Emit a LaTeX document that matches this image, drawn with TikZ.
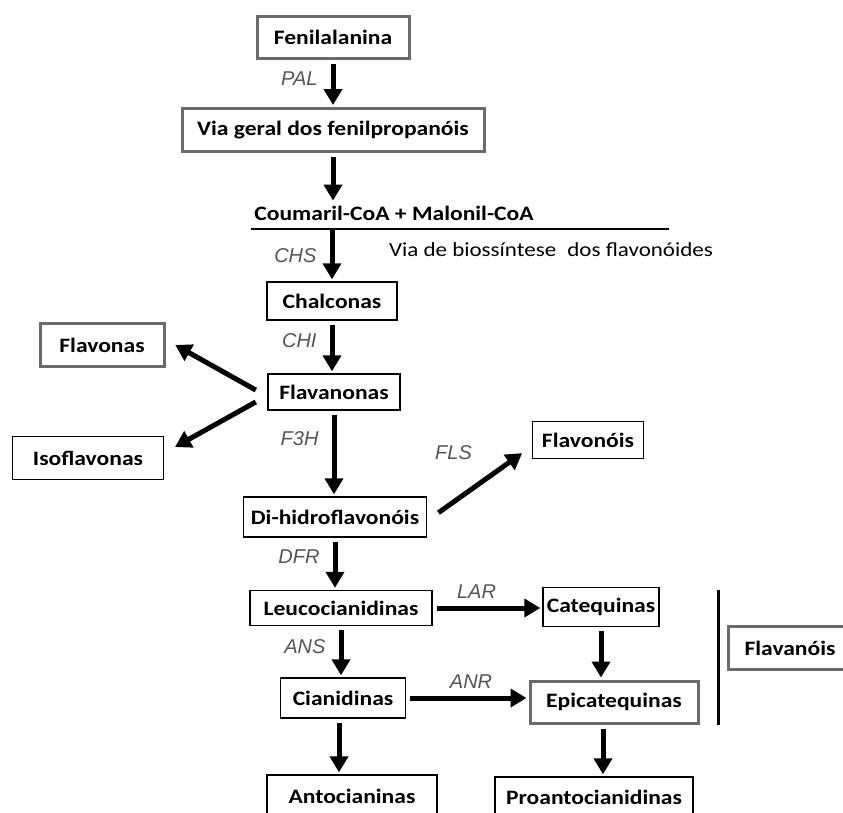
\documentclass[tikz,border=0pt]{standalone}
\usepackage{fontspec}
\setmainfont{Carlito}[FakeStretch=1.15]
\newfontfamily\labfont{Liberation Sans}
\usepackage{xcolor}
\usepackage{tikz}
\usetikzlibrary{arrows.meta, positioning}
\definecolor{labgray}{HTML}{555555}
\definecolor{framegray}{HTML}{6A6A6A}

\begin{document}
\begin{tikzpicture}[
    x=1pt, y=1pt,
    node distance=90pt,
    box/.style={rectangle, draw, line width=1.4pt, inner sep=3pt, text centered, minimum height=38pt, font=\fontsize{20.5}{25}\selectfont\bfseries},
    grayframe/.style={box, draw=framegray, line width=3pt},
    enzyme/.style={font=\labfont\itshape\fontsize{20}{24}\selectfont, text=labgray, inner sep=2pt},
    arrow/.style={-{Triangle[length=16pt, width=18pt]}, line width=5pt, shorten <=4pt, shorten >=2pt}
]
\useasboundingbox (0,0) rectangle (843,-812);

% Phenylpropanoid entry
\node [grayframe, minimum width=152pt, minimum height=42pt] (fen) at (333,-37) {Fenilalanina};
\node [grayframe, minimum width=302pt, minimum height=43pt, below of=fen, yshift=-3pt] (via) {Via geral dos fenilpropanóis};
\node [font=\fontsize{20.5}{25}\selectfont\bfseries, inner sep=3pt, below of=via, xshift=61pt, yshift=7pt] (coumaril) {Coumaril-CoA + Malonil-CoA};
\node [font=\fontsize{20}{25}\selectfont, inner sep=3pt, right of=coumaril, xshift=67pt, yshift=-37pt] (bios) {Via de biossíntese\hspace{0.3em} dos flavonóides};

% Flavonoid core
\node [box, minimum width=130pt, below of=coumaril, xshift=-62pt, yshift=2pt] (chal) {Chalconas};
\node [box, minimum width=132pt, minimum height=36pt, below of=chal, xshift=2pt, yshift=-1pt] (flava) {Flavanonas};
\node [grayframe, minimum width=124pt, minimum height=43pt, left of=flava, xshift=-142pt, yshift=47pt] (flavonas) {Flavonas};
\node [box, minimum width=151pt, minimum height=43pt, left of=flava, xshift=-156pt, yshift=-66pt] (isoflav) {Isoflavonas};
\node [box, minimum width=183pt, minimum height=40pt, below of=flava, xshift=1pt, yshift=-35pt] (dihidro) {Di-hidroflavonóis};
\node [box, minimum width=111pt, minimum height=37pt, right of=dihidro, xshift=163pt, yshift=77pt] (flavonois) {Flavonóis};

% Lower branches
\node [box, minimum width=182pt, minimum height=35pt, below of=dihidro, xshift=6pt, yshift=-1pt] (leuco) {Leucocianidinas};
\node [box, minimum width=116pt, minimum height=39pt, right of=leuco, xshift=170pt, yshift=1pt] (cateq) {Catequinas};
\node [box, minimum width=125pt, minimum height=40pt, below of=leuco, xshift=2pt] (cian) {Cianidinas};
\node [grayframe, minimum width=168pt, minimum height=42pt, right of=cian, xshift=181pt, yshift=-4pt] (epic) {Epicatequinas};
\node [box, minimum width=170pt, minimum height=42pt, below of=cian, xshift=9pt, yshift=-8pt] (antoc) {Antocianinas};
\node [box, minimum width=198pt, minimum height=40pt, below of=epic, xshift=-20pt, yshift=-5pt] (proanto) {Proantocianidinas};
\node [grayframe, minimum width=124pt, minimum height=43pt, right of=epic, xshift=86pt, yshift=54pt] (flavanois) {Flavanóis};

% Separator lines
\coordinate (rulestart) at ([yshift=-6pt]coumaril.south west);
\draw [line width=2pt] (rulestart) -- ([xshift=132pt, yshift=-6pt]coumaril.south east);
\draw [line width=2.5pt] ([xshift=-8pt]flavanois.west |- leuco.north) -- ([xshift=-8pt]flavanois.west |- epic.south);

% Main chain arrows
\draw [arrow] (fen) -- node[enzyme, left=11pt, pos=0.4] {PAL} (via);
\draw [arrow] (via) -- (via |- coumaril.north);
\draw [arrow, shorten <=0pt] (chal |- rulestart) -- node[enzyme, left=11pt, pos=0.5] {CHS} (chal);
\draw [arrow] (chal) -- node[enzyme, left=11pt, pos=0.37] {CHI} (chal |- flava.north);
\draw [arrow] (flava) -- node[enzyme, left=11pt, pos=0.33] {F3H} (flava |- dihidro.north);
\draw [arrow] (dihidro) -- node[enzyme, left=11pt, pos=0.37] {DFR} (dihidro |- leuco.north);
\draw [arrow] (leuco) -- node[enzyme, left=11pt, pos=0.4] {ANS} (leuco |- cian.north);
\draw [arrow] ([xshift=-4pt]cian.south) -- ([xshift=-4pt]cian.south |- antoc.north);

% Side branches
\draw [arrow] ([xshift=-8pt]flava.west) -- ([xshift=8pt, yshift=1pt]flavonas.east);
\draw [arrow] ([xshift=-8pt, yshift=-8pt]flava.west) -- ([xshift=9pt, yshift=10pt]isoflav.east);
\draw [arrow] ([xshift=8pt, yshift=2pt]dihidro.east) -- node[enzyme, xshift=-26pt, yshift=31pt] {FLS} ([xshift=-8pt, yshift=-12pt]flavonois.west);
\draw [arrow] (leuco) -- node[enzyme, above=5pt, pos=0.4] {LAR} (leuco -| cateq.west);
\draw [arrow] (cian) -- node[enzyme, above=5pt, pos=0.53] {ANR} (cian -| epic.west);
\draw [arrow] (cateq) -- (cateq |- epic.north);
\draw [arrow] ([xshift=-11pt]epic.south) -- ([xshift=-11pt]epic.south |- proanto.north);

\end{tikzpicture}
\end{document}
